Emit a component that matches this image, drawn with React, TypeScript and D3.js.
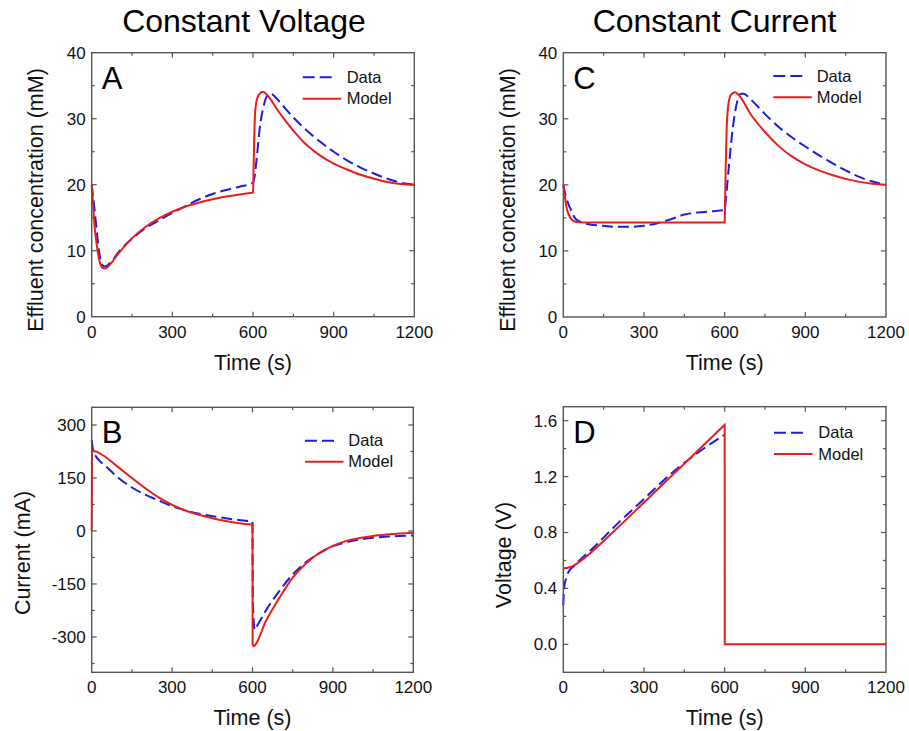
import React from 'react';
import * as d3 from 'd3';

const FONT = '"Liberation Sans", Arial, Helvetica, sans-serif';
const RED = '#ec1c1c';
const BLUE = '#1c1ce4';
const FRAME = '#555555';
const TEXT = '#111111';

// ---- tick labels ----
const timeTicks = [0, 300, 600, 900, 1200];
const concTicks = [0, 10, 20, 30, 40];
const currentTicks = [-300, -150, 0, 150, 300];
const voltageTicks = ['0.0', '0.4', '0.8', '1.2', '1.6'];

const titles = ['Constant Voltage', 'Constant Current'];
const legendLabels = ['Data', 'Model'];

// ---- Panel A: constant voltage, effluent concentration ----
const aDataT = [0, 10, 20, 30, 40, 50, 70, 100, 150, 200, 250, 300, 350, 400, 450, 500, 550, 600, 605, 615, 625, 640, 655, 665, 680, 700, 750, 800, 850, 900, 950, 1000, 1050, 1100, 1150, 1200];
const aDataV = [20, 16.5, 12.5, 9.2, 7.8, 7.6, 8.2, 9.8, 11.8, 13.4, 14.6, 15.7, 16.8, 17.8, 18.6, 19.2, 19.7, 20.3, 21, 24.5, 28.5, 32.0, 33.6, 33.8, 33.4, 32.5, 30.2, 28.2, 26.5, 25.0, 23.7, 22.6, 21.7, 20.9, 20.3, 20.0];
const aModelT = [0, 5, 10, 20, 30, 40, 50, 70, 100, 150, 200, 250, 300, 350, 400, 450, 500, 550, 600, 601, 604, 608, 615, 625, 638, 650, 700, 750, 800, 850, 900, 950, 1000, 1050, 1100, 1150, 1200];
const aModelV = [20, 17, 14, 10.5, 8.3, 7.4, 7.3, 8.0, 9.6, 11.9, 13.6, 14.9, 15.9, 16.7, 17.3, 17.8, 18.2, 18.5, 18.8, 20, 26, 31, 33, 33.8, 34.1, 33.7, 30.8, 28.2, 26.0, 24.4, 23.2, 22.3, 21.5, 20.9, 20.4, 20.1, 20.0];

// ---- Panel B: constant voltage, current ----
const bDataT = [0, 5, 15, 30, 50, 100, 150, 200, 250, 300, 350, 400, 450, 500, 550, 600, 601, 608, 620, 650, 700, 750, 800, 850, 900, 950, 1000, 1050, 1100, 1150, 1200];
const bDataV = [258, 230, 212, 198, 185, 150, 123, 103, 86, 70, 58, 49, 42, 36, 31, 27, -200, -280, -265, -225, -170, -123, -88, -63, -43, -32, -24, -19, -16, -14, -13];
const bModelT = [0, 1, 20, 50, 100, 150, 200, 250, 300, 350, 400, 450, 500, 550, 600, 600.5, 603, 650, 700, 750, 800, 850, 900, 950, 1000, 1050, 1100, 1150, 1200];
const bModelV = [0, 228, 224, 210, 180, 150, 121, 95, 74, 58, 46, 36, 28, 22, 18, -320, -326, -255, -190, -132, -92, -62, -42, -28, -20, -14, -10, -7, -5];

// ---- Panel C: constant current, effluent concentration ----
const cDataT = [0, 10, 25, 50, 100, 150, 200, 250, 300, 350, 400, 450, 500, 550, 600, 605, 615, 630, 645, 660, 670, 700, 750, 800, 850, 900, 950, 1000, 1050, 1100, 1150, 1200];
const cDataV = [20, 18.2, 16.5, 14.7, 14.0, 13.8, 13.65, 13.65, 13.8, 14.2, 14.8, 15.5, 15.8, 16.0, 16.2, 18, 22.5, 28.5, 32.3, 33.8, 33.8, 32.8, 30.7, 28.8, 27.2, 25.8, 24.5, 23.3, 22.2, 21.2, 20.5, 20.0];
const cModelT = [0, 5, 10, 20, 30, 40, 60, 100, 600, 601, 604, 608, 615, 625, 640, 650, 700, 750, 800, 850, 900, 950, 1000, 1050, 1100, 1150, 1200];
const cModelV = [20, 18.5, 17.0, 15.5, 14.8, 14.5, 14.35, 14.3, 14.3, 16, 23, 29, 32.5, 33.7, 34.0, 33.7, 30.5, 28.0, 25.9, 24.3, 23.1, 22.2, 21.5, 20.9, 20.45, 20.15, 20.0];

// ---- Panel D: constant current, voltage ----
const dDataT = [0, 3, 10, 20, 40, 60, 100, 200, 300, 400, 500, 600];
const dDataV = [0.28, 0.4, 0.47, 0.52, 0.56, 0.6, 0.67, 0.86, 1.04, 1.22, 1.37, 1.5];
const dModelT = [0, 20, 40, 60, 80, 100, 150, 200, 300, 400, 500, 600, 600.5, 1200];
const dModelV = [0.545, 0.55, 0.565, 0.59, 0.62, 0.652, 0.74, 0.83, 1.015, 1.2, 1.385, 1.57, 0, 0];

type Series = { t: number[]; v: number[] };

type PanelProps = {
  left: number; right: number; top: number; bottom: number;
  yDomain: [number, number];
  yTicks: (number | string)[];
  yMinorStep: number;
  letter: string;
  yLabel: string;
  yLabelX: number; yLabelY: number;
  legX: number; legTextX: number; legY1: number; legY2: number;
  data: Series; model: Series;
};

function Panel(p: PanelProps) {
  const x = d3.scaleLinear().domain([0, 1200]).range([p.left, p.right]);
  const y = d3.scaleLinear().domain(p.yDomain).range([p.bottom, p.top]);
  const line = d3.line<[number, number]>()
    .x(d => x(d[0]))
    .y(d => y(d[1]))
    .curve(d3.curveMonotoneX);
  // split a series at near-vertical jumps (dt <= 1 s), draw smooth pieces joined by straight segments
  const pathOf = (s: Series) => {
    const segs: [number, number][][] = [];
    let cur: [number, number][] = [];
    s.t.forEach((t, i) => {
      if (i > 0 && t - s.t[i - 1] <= 1) { segs.push(cur); cur = []; }
      cur.push([t, s.v[i]]);
    });
    segs.push(cur);
    return segs.map((seg, i) => {
      let d = seg.length === 1 ? `M${x(seg[0][0])},${y(seg[0][1])}` : (line(seg) || '');
      if (i > 0) d = 'L' + d.slice(1);
      return d;
    }).join('');
  };
  const yTickVals = p.yTicks.map(v => +v);
  const eps = 1e-6;
  const xMinor = d3.range(0, 1200 + eps, 150).filter(v => v > eps && v < 1200 - eps);
  const start = Math.ceil((p.yDomain[0] + eps) / p.yMinorStep) * p.yMinorStep;
  const yMinor = d3.range(start, p.yDomain[1] - eps, p.yMinorStep)
    .filter(v => v > p.yDomain[0] + eps && v < p.yDomain[1] - eps);
  const major = 5, minor = 3;
  return (
    <g>
      {xMinor.map((v, i) => {
        const isMajor = timeTicks.some(t => Math.abs(t - v) < eps);
        const L = isMajor ? major : minor;
        return (
          <g key={'xt' + i} stroke={FRAME} strokeWidth={1.2}>
            <line x1={x(v)} x2={x(v)} y1={p.bottom} y2={p.bottom - L} />
            <line x1={x(v)} x2={x(v)} y1={p.top} y2={p.top + L} />
          </g>
        );
      })}
      {yMinor.map((v, i) => {
        const isMajor = yTickVals.some(t => Math.abs(t - v) < eps);
        const L = isMajor ? major : minor;
        return (
          <g key={'yt' + i} stroke={FRAME} strokeWidth={1.2}>
            <line x1={p.left} x2={p.left + L} y1={y(v)} y2={y(v)} />
            <line x1={p.right} x2={p.right - L} y1={y(v)} y2={y(v)} />
          </g>
        );
      })}
      <path d={pathOf(p.data)} fill="none" stroke={BLUE} strokeWidth={2} strokeDasharray="11,5" />
      <path d={pathOf(p.model)} fill="none" stroke={RED} strokeWidth={2} />
      <rect x={p.left} y={p.top} width={p.right - p.left} height={p.bottom - p.top}
        fill="none" stroke={FRAME} strokeWidth={1.4} />
      {timeTicks.map((v, i) => (
        <text key={'xl' + i} x={x(v)} y={p.bottom + 21} textAnchor="middle"
          fontSize={17} fill={TEXT} fontFamily={FONT}>{v}</text>
      ))}
      {p.yTicks.map((v, i) => (
        <text key={'yl' + i} x={p.left - 6} y={y(+v)} dy="0.35em" textAnchor="end"
          fontSize={17} fill={TEXT} fontFamily={FONT}>{String(v)}</text>
      ))}
      <text x={(p.left + p.right) / 2} y={p.bottom + 53} textAnchor="middle"
        fontSize={21.5} fill={TEXT} fontFamily={FONT}>Time (s)</text>
      <text transform={`translate(${p.yLabelX},${p.yLabelY}) rotate(-90)`} textAnchor="middle"
        fontSize={21.5} fill={TEXT} fontFamily={FONT}>{p.yLabel}</text>
      <text x={p.left + 10} y={p.top + 36} fontSize={31} fill="#000" fontFamily={FONT}>{p.letter}</text>
      <line x1={p.legX} x2={p.legX + 29} y1={p.legY1} y2={p.legY1} stroke={BLUE} strokeWidth={2} strokeDasharray="12,5" />
      <text x={p.legTextX} y={p.legY1} dy="0.35em" fontSize={16.5} fill={TEXT} fontFamily={FONT}>{legendLabels[0]}</text>
      <line x1={p.legX} x2={p.legX + 38.5} y1={p.legY2} y2={p.legY2} stroke={RED} strokeWidth={2} />
      <text x={p.legTextX} y={p.legY2} dy="0.35em" fontSize={16.5} fill={TEXT} fontFamily={FONT}>{legendLabels[1]}</text>
    </g>
  );
}

export default function App() {
  return (
    <svg width={909} height={731} style={{ position: 'absolute', left: 0, top: 0, background: '#fff' }}>
      <rect x={0} y={0} width={909} height={731} fill="#fff" />
      <text x={244} y={32} textAnchor="middle" fontSize={32} fill="#000" fontFamily={FONT}>{titles[0]}</text>
      <text x={714.5} y={32} textAnchor="middle" fontSize={32} fill="#000" fontFamily={FONT}>{titles[1]}</text>
      <Panel left={91.7} right={414.3} top={52.7} bottom={316.7} yDomain={[0, 40]} yTicks={concTicks} yMinorStep={5}
        letter="A" yLabel="Effluent concentration (mM)" yLabelX={43} yLabelY={200}
        legX={302.7} legTextX={346.7} legY1={77.3} legY2={98.7}
        data={{ t: aDataT, v: aDataV }} model={{ t: aModelT, v: aModelV }} />
      <Panel left={563.3} right={886} top={52.7} bottom={317} yDomain={[0, 40]} yTicks={concTicks} yMinorStep={5}
        letter="C" yLabel="Effluent concentration (mM)" yLabelX={515} yLabelY={200}
        legX={773.3} legTextX={816.7} legY1={76} legY2={97.3}
        data={{ t: cDataT, v: cDataV }} model={{ t: cModelT, v: cModelV }} />
      <Panel left={91.7} right={413.3} top={407.3} bottom={672.3} yDomain={[-400, 350]} yTicks={currentTicks} yMinorStep={75}
        letter="B" yLabel="Current (mA)" yLabelX={30} yLabelY={553}
        legX={305} legTextX={348.3} legY1={440.7} legY2={461.7}
        data={{ t: bDataT, v: bDataV }} model={{ t: bModelT, v: bModelV }} />
      <Panel left={563.3} right={886} top={406.7} bottom={672.3} yDomain={[-0.2, 1.7]} yTicks={voltageTicks} yMinorStep={0.2}
        letter="D" yLabel="Voltage (V)" yLabelX={511} yLabelY={555}
        legX={774} legTextX={818.3} legY1={432.7} legY2={454}
        data={{ t: dDataT, v: dDataV }} model={{ t: dModelT, v: dModelV }} />
    </svg>
  );
}
